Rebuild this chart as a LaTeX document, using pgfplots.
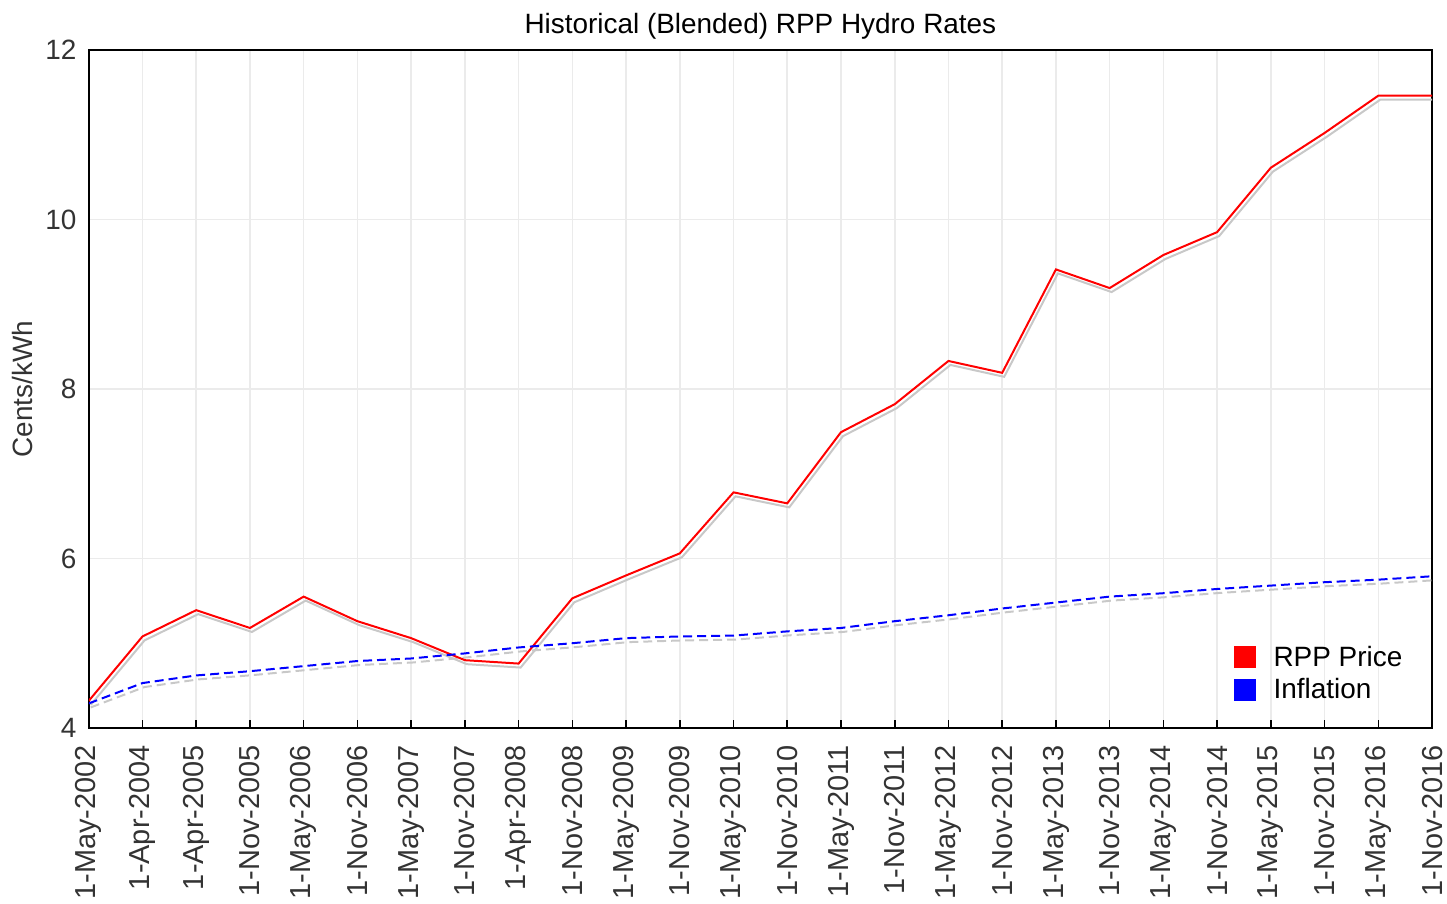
\documentclass[border=0pt]{standalone}
\usepackage{pgfplots}
\pgfplotsset{compat=1.18}
\usepackage{fontspec}
\setmainfont{Liberation Sans}
\definecolor{txt}{HTML}{333333}
\definecolor{gridc}{HTML}{EBEBEB}
\definecolor{shadow}{HTML}{C8C8C8}
\pgfplotstableread{
x rpp infl
0 4.32 4.29
1 5.08 4.53
2 5.39 4.62
3 5.18 4.67
4 5.55 4.73
5 5.26 4.79
6 5.06 4.82
7 4.80 4.88
8 4.76 4.95
9 5.53 5.00
10 5.80 5.06
11 6.06 5.08
12 6.78 5.09
13 6.65 5.14
14 7.49 5.18
15 7.82 5.26
16 8.33 5.33
17 8.19 5.41
18 9.41 5.48
19 9.19 5.55
20 9.58 5.59
21 9.85 5.64
22 10.61 5.68
23 11.02 5.72
24 11.46 5.75
25 11.46 5.79
}\data
\begin{document}
\begin{tikzpicture}
\path (-44.5pt,-88pt) rectangle (681pt,365pt);
\begin{axis}[
  at={(0,0)}, anchor=south west,
  scale only axis, width=673.5pt, height=340pt,
  xmin=0, xmax=25, ymin=4, ymax=12,
  xtick={0,...,25},
  xticklabels={1-May-2002,1-Apr-2004,1-Apr-2005,1-Nov-2005,1-May-2006,1-Nov-2006,1-May-2007,1-Nov-2007,1-Apr-2008,1-Nov-2008,1-May-2009,1-Nov-2009,1-May-2010,1-Nov-2010,1-May-2011,1-Nov-2011,1-May-2012,1-Nov-2012,1-May-2013,1-Nov-2013,1-May-2014,1-Nov-2014,1-May-2015,1-Nov-2015,1-May-2016,1-Nov-2016},
  xticklabel style={rotate=90, anchor=east, font=\fontsize{14.5}{16}\selectfont, text=txt, inner sep=0pt, xshift=-8.5pt},
  ytick={4,6,8,10,12},
  yticklabel style={font=\fontsize{14}{16}\selectfont, text=txt, inner sep=0pt, xshift=-6pt},
  /pgf/number format/assume math mode=true,
  xtick pos=bottom, ytick pos=left,
  tick align=inside,
  major tick length=4pt,
  xtick style={draw=black, line width=0.8pt},
  ytick style={draw=none},
  xmajorgrids, ymajorgrids,
  grid style={gridc, line width=0.8pt},
  axis line style={black, line width=1pt},
  title={Historical (Blended) RPP Hydro Rates},
  title style={at={(0.5,1)}, anchor=base, yshift=2pt, inner sep=0pt, font=\fontsize{14}{16}\selectfont, text=black},
  ylabel={Cents/kWh},
  ylabel style={at={(axis description cs:-0.049,0.5)}, anchor=center, rotate=0, inner sep=0pt, font=\fontsize{14}{16}\selectfont, text=txt},
  legend style={at={(0.852,0.033)}, anchor=south west, draw=none, fill=none, font=\fontsize{14}{16}\selectfont, row sep=0.5pt, column sep=7pt, inner sep=0pt},
  legend cell align=left,
  legend image code/.code={\fill[#1, solid] (0pt,-5pt) rectangle (10pt,5pt);},
]
\addplot[shadow, line width=1pt, xshift=1pt, yshift=-2pt, forget plot] table[x=x,y=rpp] {\data};
\addplot[shadow, line width=1pt, dash pattern=on 4.5pt off 2.5pt, xshift=1pt, yshift=-2pt, forget plot] table[x=x,y=infl] {\data};
\addplot[red, line width=1pt] table[x=x,y=rpp] {\data};
\addlegendentry{RPP Price}
\addplot[blue, line width=1pt, dash pattern=on 4.5pt off 2.5pt] table[x=x,y=infl] {\data};
\addlegendentry{Inflation}
\end{axis}
\end{tikzpicture}
\end{document}
